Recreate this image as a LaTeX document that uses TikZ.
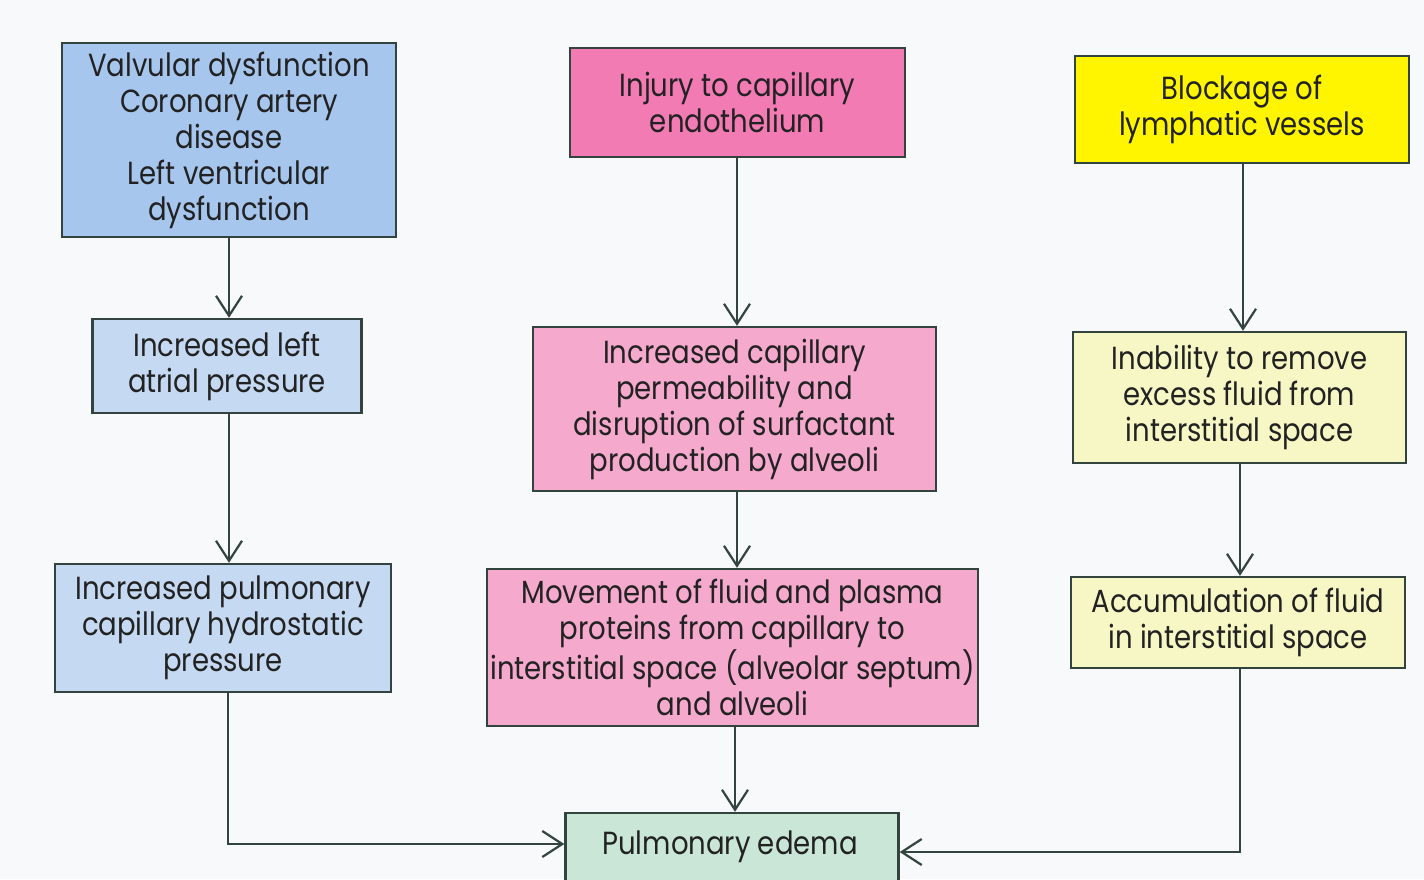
\documentclass[tikz,border=0pt]{standalone}
\usepackage{fontspec}
\setmainfont{Poppins}[FakeStretch=0.86]
\usetikzlibrary{arrows.meta}
\definecolor{bgc}{HTML}{F7F9FB}
\definecolor{edge}{HTML}{33443F}
\definecolor{txt}{HTML}{222222}
\definecolor{blueA}{HTML}{A6C6EE}
\definecolor{blueB}{HTML}{C5DAF2}
\definecolor{pinkA}{HTML}{F27BB4}
\definecolor{pinkB}{HTML}{F5A9CD}
\definecolor{yelA}{HTML}{FFF500}
\definecolor{yelB}{HTML}{F7F7C6}
\definecolor{greenA}{HTML}{C9E6D6}
\tikzset{
  box/.style={draw=edge, line width=1.2pt, rectangle, inner sep=0pt, align=center,
    text=txt, font=\fontsize{16pt}{18pt}\selectfont},
  conn/.style={draw=edge, line width=1.1pt, -{Straight Barb[length=10pt,width=13pt,line width=1.1pt]}},
}
\begin{document}
\begin{tikzpicture}[x=0.5pt,y=-0.5pt]
\fill[bgc] (0,0) rectangle (1424,879);
\useasboundingbox (0,0) rectangle (1424,879);
\begin{scope}
\clip (0,0) rectangle (1424,879);
\node[box, fill=blueA, minimum width=167pt, minimum height=97pt] (b1) at (229,140)
  {Valvular dysfunction\\Coronary artery\\disease\\Left ventricular\\dysfunction};
\node[box, fill=blueB, minimum width=134.5pt, minimum height=47pt] (b2) at (227,366)
  {Increased left\\atrial pressure};
\node[box, fill=blueB, minimum width=168pt, minimum height=64pt] (b3) at (223,628)
  {Increased pulmonary\\capillary hydrostatic\\pressure};
\node[box, fill=pinkA, minimum width=167.5pt, minimum height=54.5pt] (p1) at (737.5,102.5)
  {Injury to capillary\\endothelium};
\node[box, fill=pinkB, minimum width=201.5pt, minimum height=82pt] (p2) at (734.5,409)
  {Increased capillary\\permeability and\\disruption of surfactant\\production by alveoli};
\node[box, fill=pinkB, minimum width=245.5pt, minimum height=78.5pt] (p3) at (732.5,647.5)
  {Movement of fluid and plasma\\proteins from capillary to\\interstitial space (alveolar septum)\\and alveoli};
\node[box, fill=yelA, minimum width=167pt, minimum height=53.5pt] (y1) at (1242,109.5)
  {Blockage of\\lymphatic vessels};
\node[box, fill=yelB, minimum width=166.5pt, minimum height=65.5pt] (y2) at (1239.5,397.5)
  {Inability to remove\\excess fluid from\\interstitial space};
\node[box, fill=yelB, minimum width=167pt, minimum height=45.5pt] (y3) at (1238,622.5)
  {Accumulation of fluid\\in interstitial space};
\node[box, fill=greenA, minimum width=166.5pt, minimum height=39pt] (e) at (732,852) {};
\node[text=txt, font=\fontsize{16pt}{18pt}\selectfont] (et) at (730,847) {Pulmonary edema};
\coordinate (lc) at (228,844);
\coordinate (rc) at (1240,852);
\draw[conn] (b1.south -| 229,0) -- (b2.north -| 229,0);
\draw[conn] (b2.south -| 229,0) -- (b3.north -| 229,0);
\draw[conn] (b3.south -| lc) -- (lc) -- (lc -| e.west);
\draw[conn] (p1.south -| 737,0) -- (p2.north -| 737,0);
\draw[conn] (p2.south -| 737,0) -- (p3.north -| 737,0);
\draw[conn] (p3.south -| 735,0) -- (e.north -| 735,0);
\draw[conn] (y1.south -| 1243,0) -- (y2.north -| 1243,0);
\draw[conn] (y2.south -| 1240,0) -- (y3.north -| 1240,0);
\draw[conn] (y3.south -| rc) -- (rc) -- (rc -| e.east);
\end{scope}
\end{tikzpicture}
\end{document}
